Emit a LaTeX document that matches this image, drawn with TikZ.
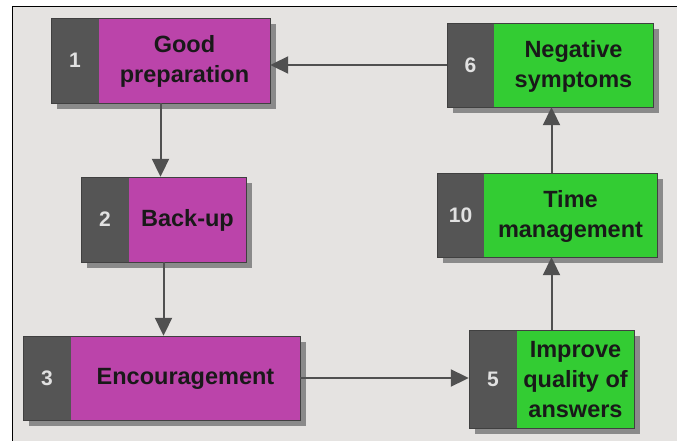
\documentclass[tikz,border=0pt]{standalone}
\usepackage{fontspec}
\setmainfont{Liberation Sans}
\usetikzlibrary{arrows.meta,shadows,fit}

\definecolor{bggray}{RGB}{229,227,225}
\definecolor{numgray}{RGB}{85,85,85}
\definecolor{shadowgray}{RGB}{138,138,138}
\definecolor{plum}{RGB}{187,68,170}
\definecolor{leaf}{RGB}{51,204,51}
\definecolor{numtext}{RGB}{225,225,225}
\definecolor{linkgray}{RGB}{80,80,80}

\tikzset{
  panelbase/.style={inner sep=0pt, fill=numgray,
    drop shadow={shadow xshift=6pt, shadow yshift=-6pt, fill=shadowgray, opacity=1}},
  paneledge/.style={draw=black!75, line width=0.7pt},
  numlabel/.style={font=\fontsize{21}{29}\selectfont\bfseries, text=numtext},
  steplabel/.style={font=\fontsize{23.5}{30}\selectfont\bfseries, text=black!90,
    align=center},
  link/.style={draw=linkgray, line width=2pt,
    -{Triangle[length=18pt,width=17pt]}},
}

% \panel{name}{x1}{y1}{x2}{y2}{split}{colour}{number}{text}
\newcommand{\panel}[9]{%
  \node[panelbase, fit={(#2,#3) (#4,#5)}] (#1) {};
  \fill[#7] (#6,#3) rectangle (#4,#5);
  \draw[paneledge] (#2,#3) rectangle (#4,#5);
  \node[numlabel] (#1n) at ({(#2+#6)/2},{(#3+#5)/2}) {#8};
  \node[steplabel] (#1t) at ({(#6+#4)/2},{(#3+#5)/2+1}) {#9};
}

\begin{document}
\begin{tikzpicture}[x=1pt,y=-1pt]
  % page and sunken background panel
  \fill[white] (0,0) rectangle (677,441);
  \useasboundingbox (0,0) rectangle (677,441);
  \fill[bggray] (12,7) rectangle (677,441);
  \draw[black, line width=1pt] (12,441) -- (12,7) -- (677,7);

  % steps
  \panel{b1}{51}{18}{270}{103}{99}{plum}{1}{Good\\preparation}
  \panel{b2}{81}{177}{246}{262}{129}{plum}{2}{Back-up}
  \panel{b3}{23}{336}{300}{420}{71}{plum}{3}{Encouragement}
  \panel{b5}{469}{330}{634}{428}{517}{leaf}{5}{Improve\\quality of\\answers}
  \panel{b10}{437}{173}{657}{257}{484}{leaf}{10}{Time\\management}
  \panel{b6}{447}{23}{653}{107}{494}{leaf}{6}{Negative\\symptoms}

  % connectors
  \draw[link] (b1.south) -- (b1.south |- b2.north);
  \draw[link] (b2.south) -- (b2.south |- b3.north);
  \draw[link] (b3.east) -- (b3.east -| b5.west);
  \draw[link] (b5.north) -- (b5.north |- b10.south);
  \draw[link] (b10.north -| b5.north) -- (b6.south -| b5.north);
  \draw[link] (b6.west) -- (b6.west -| b1.east);
\end{tikzpicture}
\end{document}
